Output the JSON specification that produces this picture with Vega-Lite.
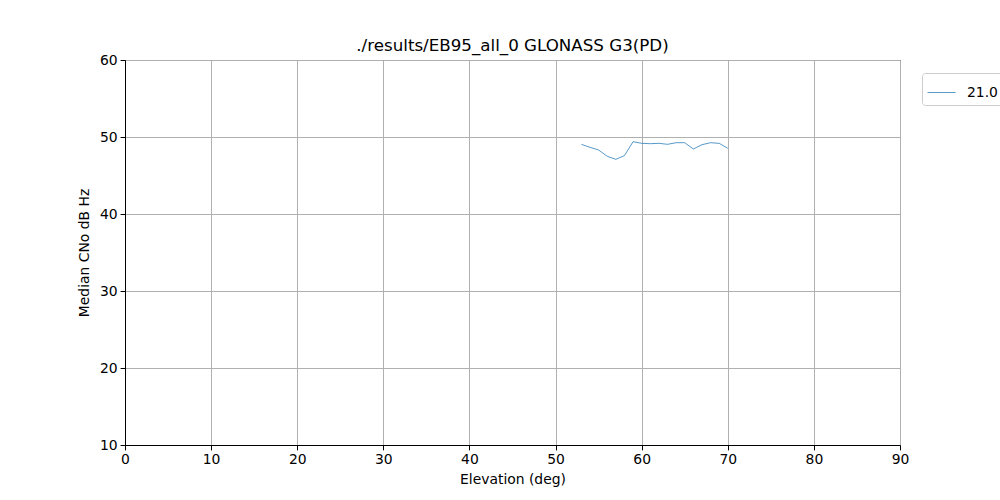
{
  "$schema": "https://vega.github.io/schema/vega-lite/v6.json",
  "width": 775,
  "height": 385,
  "autosize": {"type": "none"},
  "padding": {"left": 125, "top": 60, "right": 100, "bottom": 55},
  "background": "white",
  "title": {"text": "./results/EB95_all_0 GLONASS G3(PD)", "fontSize": 16.7, "font": "DejaVu Sans", "fontWeight": "normal", "color": "black", "offset": -2},
  "config": {
    "view": {"stroke": "black", "strokeWidth": 1},
    "axis": {"labelFont": "DejaVu Sans", "titleFont": "DejaVu Sans", "labelFontSize": 13.9, "titleFontSize": 13.9, "titleFontWeight": "normal", "labelColor": "black", "titleColor": "black", "gridColor": "#b0b0b0", "gridWidth": 1, "tickColor": "black", "tickSize": 4.9, "labelPadding": 3, "domainColor": "black", "labelFlush": false}
  },
  "data": {"values": [
    {"elev": 53, "cno": 49.05, "sv": "21.0"},
    {"elev": 54, "cno": 48.66, "sv": "21.0"},
    {"elev": 55, "cno": 48.31, "sv": "21.0"},
    {"elev": 56, "cno": 47.5, "sv": "21.0"},
    {"elev": 57, "cno": 47.1, "sv": "21.0"},
    {"elev": 58, "cno": 47.58, "sv": "21.0"},
    {"elev": 59, "cno": 49.39, "sv": "21.0"},
    {"elev": 60, "cno": 49.18, "sv": "21.0"},
    {"elev": 61, "cno": 49.13, "sv": "21.0"},
    {"elev": 62, "cno": 49.18, "sv": "21.0"},
    {"elev": 63, "cno": 49.05, "sv": "21.0"},
    {"elev": 64, "cno": 49.26, "sv": "21.0"},
    {"elev": 65, "cno": 49.26, "sv": "21.0"},
    {"elev": 66, "cno": 48.44, "sv": "21.0"},
    {"elev": 67, "cno": 49.0, "sv": "21.0"},
    {"elev": 68, "cno": 49.26, "sv": "21.0"},
    {"elev": 69, "cno": 49.18, "sv": "21.0"},
    {"elev": 70, "cno": 48.53, "sv": "21.0"}
  ]},
  "mark": {"type": "line", "strokeWidth": 0.75},
  "encoding": {
    "x": {"field": "elev", "type": "quantitative", "scale": {"domain": [0, 90], "nice": false}, "axis": {"title": "Elevation (deg)", "values": [0,10,20,30,40,50,60,70,80,90], "titlePadding": 6}},
    "y": {"field": "cno", "type": "quantitative", "scale": {"domain": [10, 60], "nice": false, "zero": false}, "axis": {"title": "Median CNo dB Hz", "values": [10,20,30,40,50,60], "titlePadding": 8}},
    "color": {"field": "sv", "type": "nominal", "scale": {"range": ["#1f77b4"]}, "legend": {"title": null, "orient": "none", "legendX": 797, "legendY": 13, "symbolType": "stroke", "symbolStrokeWidth": 0.75, "symbolSize": 784, "labelOffset": 11, "labelFont": "DejaVu Sans", "labelFontSize": 13.9, "labelColor": "black", "strokeColor": "#cccccc", "cornerRadius": 3, "padding": 5, "fillColor": "white"}}
  }
}
